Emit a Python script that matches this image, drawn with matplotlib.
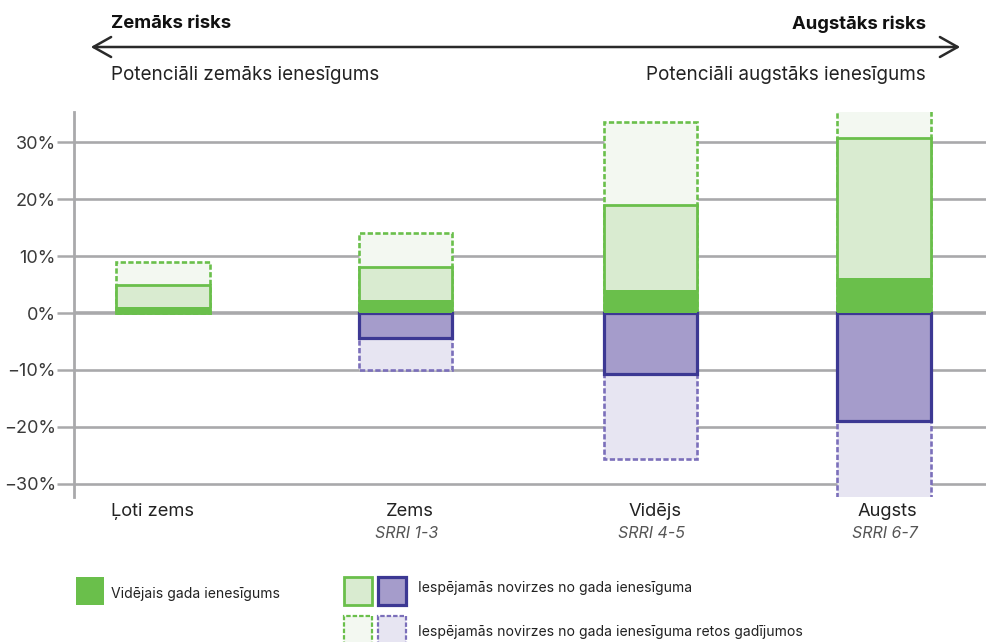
import matplotlib
matplotlib.use("Agg")
import matplotlib.pyplot as plt
from matplotlib.patches import Rectangle

categories = ['Ļoti zems', 'Zems', 'Vidējs', 'Augsts']
sublabels = ['', 'SRRI 1-3', 'SRRI 4-5', 'SRRI 6-7']
avg = [1.0, 2.3, 4.0, 6.1]
dev_hi = [5.0, 8.0, 19.0, 30.7]
ext_hi = [9.0, 14.0, 33.5, 40.0]
dev_lo = [None, -4.3, -10.7, -19.0]
ext_lo = [None, -10.0, -25.6, -36.0]
yticks = [-30, -20, -10, 0, 10, 20, 30]
legend_labels = ['Vidējais gada ienesīgums',
                 'Iespējamās novirzes no gada ienesīguma',
                 'Iespējamās novirzes no gada ienesīguma retos gadījumos']

# layout: horizontal slot of each category (uneven spacing in the original)
slots = [0.0, 1.01, 2.03, 3.0]

GREEN = '#6abf4b'
GREEN_LIGHT = '#d9ebd0'
GREEN_PALE = '#f3f8f1'
PURPLE = '#a59ccb'
PURPLE_EDGE = '#3c3893'
PURPLE_PALE = '#e7e5f2'
PURPLE_DASH = '#7b6fba'
GRID = '#a9a9ab'
TEXT = '#222222'

plt.rcParams['font.family'] = ['Inter', 'DejaVu Sans']

W, H = 987, 642
fig = plt.figure(figsize=(W / 100, H / 100), dpi=100)

def fx(x):
    return x / W

def fy(y):
    return 1 - y / H

ax = fig.add_axes([fx(74), fy(497), 1 - fx(74), fy(112) - fy(497)])
ax.set_ylim(-32.3, 35.3)
ax.set_xlim(-0.37, 3.43)
for s in ['top', 'right', 'bottom']:
    ax.spines[s].set_visible(False)
ax.spines['left'].set_color(GRID)
ax.spines['left'].set_linewidth(2)
ax.set_yticks(yticks)
ax.set_yticklabels([f"{t}%".replace('-', '\u2212') for t in yticks],
                   fontsize=13, color='#3a3a3a')
ax.tick_params(axis='y', length=12, width=1.8, color=GRID, pad=1)
ax.set_xticks([])
for t in yticks:
    ax.axhline(t, color=GRID, lw=1.9 if t != 0 else 2.6, zorder=0.5)

w = 0.39
dash = (0, (2.0, 0.9))
for i, xs in enumerate(slots):
    ax.bar(xs, ext_hi[i], width=w, color=GREEN_PALE, edgecolor=GREEN,
           lw=1.9, linestyle=dash, zorder=2)
    ax.bar(xs, dev_hi[i], width=w, color=GREEN_LIGHT, edgecolor=GREEN,
           lw=2.0, zorder=3)
    ax.bar(xs, avg[i], width=w, color=GREEN, edgecolor='none', lw=0, zorder=4)
    if ext_lo[i] is not None:
        ax.bar(xs, ext_lo[i], width=w, color=PURPLE_PALE, edgecolor=PURPLE_DASH,
               lw=1.9, linestyle=dash, zorder=2)
        ax.bar(xs, dev_lo[i], width=w, color=PURPLE, edgecolor=PURPLE_EDGE,
               lw=2.3, zorder=3)
    if i == 0:
        fig.text(fx(111), fy(511), categories[i], fontsize=13.2, color=TEXT,
                 ha='left', va='center')
    else:
        xp = ax.transData.transform((xs, 0))[0]
        fig.text(xp / W + 0.004, fy(511), categories[i], fontsize=13.2, color=TEXT,
                 ha='center', va='center')
        fig.text(xp / W + 0.001, fy(533), sublabels[i], fontsize=11.5,
                 color='#555555', style='italic', ha='center', va='center')

# top arrow and texts
fig.patches.append(matplotlib.patches.FancyArrowPatch(
    (fx(88), fy(47)), (fx(963), fy(47)), transform=fig.transFigure,
    arrowstyle='<->,head_length=8,head_width=4.5', color='#2a2a2a', lw=1.8,
    mutation_scale=1.6))
fig.text(fx(111), fy(24), 'Zemāks risks', fontsize=13.3, fontweight='bold',
         color='#111111', ha='left', va='center')
fig.text(fx(926), fy(24), 'Augstāks risks', fontsize=13.3, fontweight='bold',
         color='#111111', ha='right', va='center')
fig.text(fx(111), fy(75), 'Potenciāli zemāks ienesīgums', fontsize=13.6,
         color=TEXT, ha='left', va='center')
fig.text(fx(926), fy(75), 'Potenciāli augstāks ienesīgums', fontsize=13.6,
         color=TEXT, ha='right', va='center')

# legend
def sq(x0, y0, face, edge, lw, ls='solid'):
    r = Rectangle((fx(x0), fy(y0 + 28)), fx(28), 28 / H, transform=fig.transFigure,
                  facecolor=face, edgecolor=edge if edge else 'none', lw=lw,
                  linestyle=ls, clip_on=False)
    fig.patches.append(r)

sq(76, 577, GREEN, None, 0)
sq(344, 577, GREEN_LIGHT, GREEN, 2.0)
sq(378, 577, PURPLE, PURPLE_EDGE, 2.3)
sq(344, 616, GREEN_PALE, GREEN, 1.6, dash)
sq(378, 616, PURPLE_PALE, PURPLE_DASH, 1.6, dash)
fig.text(fx(111), fy(594), legend_labels[0], fontsize=10.1, color=TEXT,
         ha='left', va='center')
fig.text(fx(418), fy(588), legend_labels[1], fontsize=10.1, color=TEXT,
         ha='left', va='center')
fig.text(fx(418), fy(632), legend_labels[2], fontsize=10.1, color=TEXT,
         ha='left', va='center')

fig.savefig('out.png', dpi=100)
